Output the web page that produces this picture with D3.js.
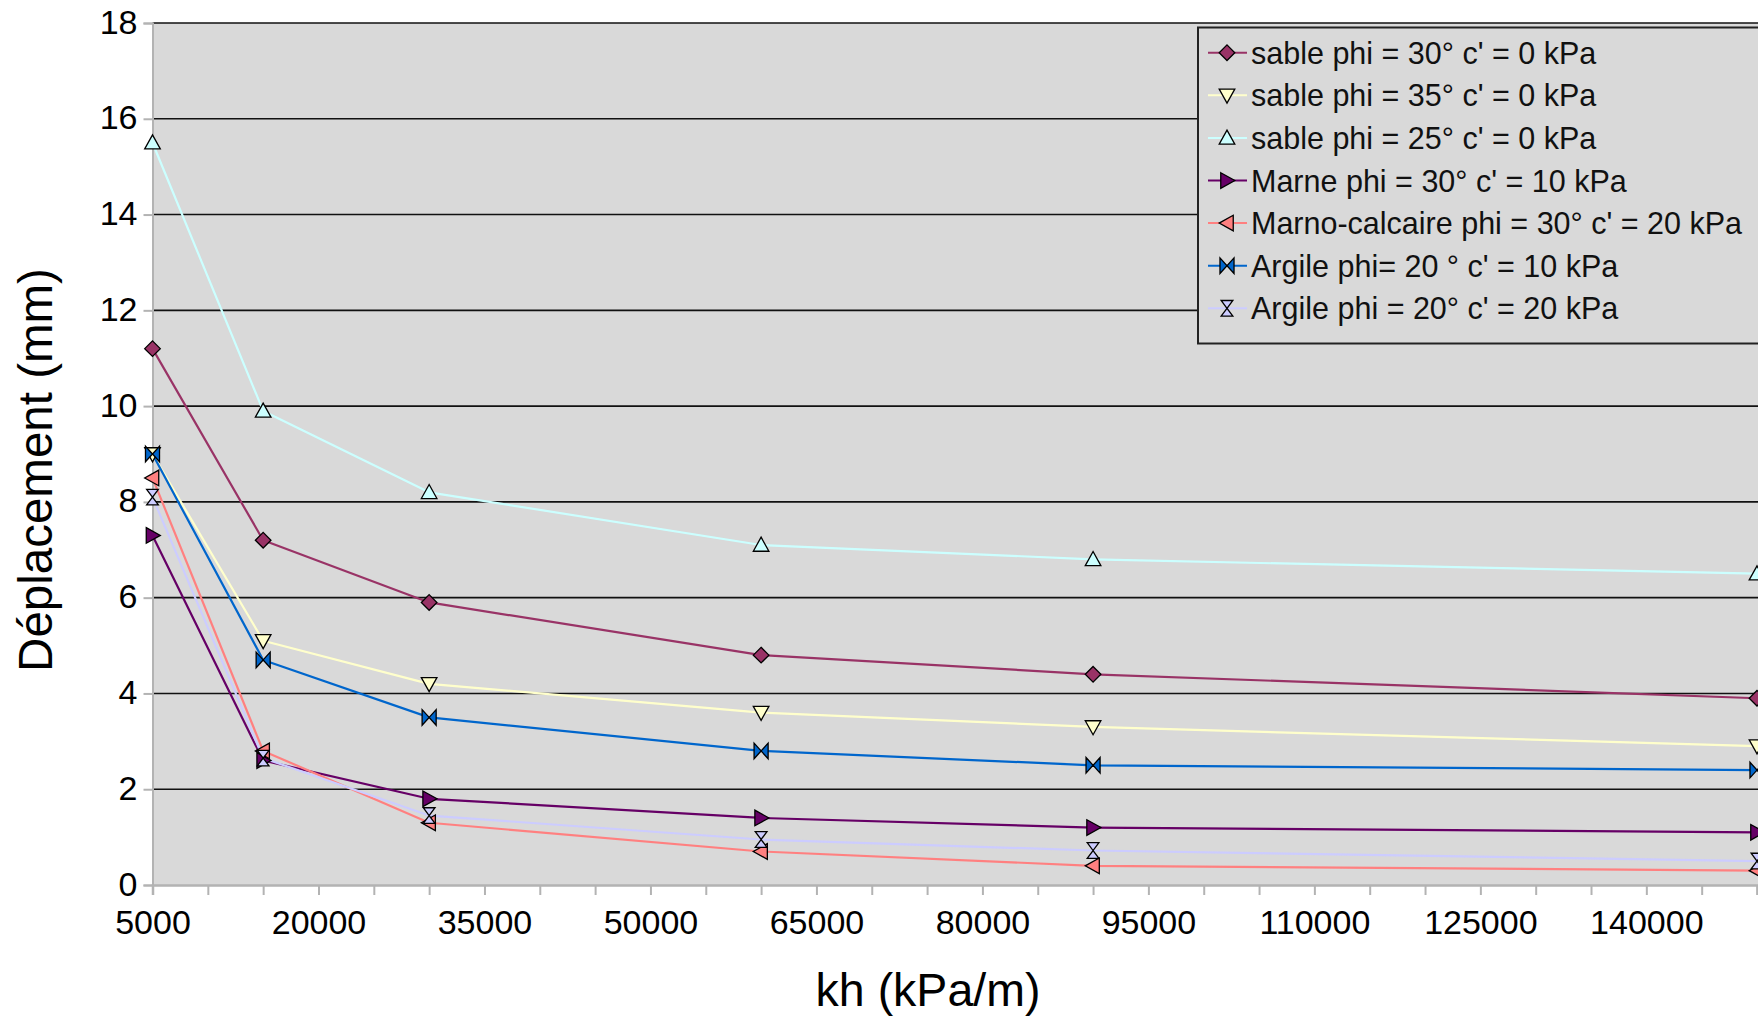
<!DOCTYPE html>
<html>
<head>
<meta charset="utf-8">
<script src="https://cdn.jsdelivr.net/npm/d3@7"></script>
<style>
  html, body { margin: 0; padding: 0; background: #ffffff; }
  svg { display: block; font-family: "Liberation Sans", Arial, sans-serif; }
</style>
</head>
<body>
<svg id="chart" width="1758" height="1018"></svg>
<script>
// ---- Data ----
const khValues = [5000, 15000, 30000, 60000, 90000, 150000];
const seriesNames = [
  "sable phi = 30° c' = 0 kPa",
  "sable phi = 35° c' = 0 kPa",
  "sable phi = 25° c' = 0 kPa",
  "Marne phi = 30° c' = 10 kPa",
  "Marno-calcaire phi = 30° c' = 20 kPa",
  "Argile phi= 20 ° c' = 10 kPa",
  "Argile phi = 20° c' = 20 kPa"
];
const sable30 = [11.2, 7.2, 5.9, 4.8, 4.4, 3.9];
const sable35 = [9.0, 5.1, 4.2, 3.6, 3.3, 2.9];
const sable25 = [15.5, 9.9, 8.2, 7.1, 6.8, 6.5];
const marne = [7.3, 2.6, 1.8, 1.4, 1.2, 1.1];
const marnoCalcaire = [8.5, 2.8, 1.3, 0.7, 0.4, 0.3];
const argile10 = [9.0, 4.7, 3.5, 2.8, 2.5, 2.4];
const argile20 = [8.1, 2.65, 1.45, 0.95, 0.72, 0.5];
const seriesValues = [sable30, sable35, sable25, marne, marnoCalcaire, argile10, argile20];
const seriesColors = ["#993366", "#ffffcc", "#ccffff", "#660066", "#ff8080", "#0066cc", "#ccccff"];
const seriesMarkers = ["diamond", "down", "up", "right", "left", "bowtie", "hourglass"];
const yTicks = [0, 2, 4, 6, 8, 10, 12, 14, 16, 18];
const xTickMarks = d3.range(5000, 150001, 5000);
const xTickLabels = [5000, 20000, 35000, 50000, 65000, 80000, 95000, 110000, 125000, 140000];

// ---- Layout ----
const svg = d3.select("#chart");
const plot = { left: 152.5, right: 1757, top: 23, bottom: 885 };
const x = d3.scaleLinear().domain([5000, 150000]).range([plot.left, plot.right]);
const y = d3.scaleLinear().domain([0, 18]).range([plot.bottom, plot.top]);

function markerPath(type, r) {
  switch (type) {
    case "diamond": return `M0,${-r}L${r},0L0,${r}L${-r},0Z`;
    case "down": return `M${-r},${-r*0.8}L${r},${-r*0.8}L0,${r}Z`;
    case "up": return `M0,${-r}L${r},${r*0.8}L${-r},${r*0.8}Z`;
    case "right": return `M${-r*0.8},${-r}L${r},0L${-r*0.8},${r}Z`;
    case "left": return `M${r*0.8},${-r}L${-r},0L${r*0.8},${r}Z`;
    case "bowtie": return `M${-r*0.9},${-r}L0,0L${-r*0.9},${r}ZM${r*0.9},${-r}L0,0L${r*0.9},${r}Z`;
    case "hourglass": return `M${-r*0.75},${-r}L${r*0.75},${-r}L0,0ZM${-r*0.75},${r}L${r*0.75},${r}L0,0Z`;
  }
}

// plot background
svg.append("rect")
  .attr("x", plot.left).attr("y", plot.top)
  .attr("width", plot.right - plot.left + 2).attr("height", plot.bottom - plot.top)
  .attr("fill", "#d9d9d9");

// gridlines
svg.append("g").selectAll("line")
  .data(yTicks.filter(d => d > 0))
  .join("line")
  .attr("x1", plot.left).attr("x2", 1758)
  .attr("y1", d => y(d)).attr("y2", d => y(d))
  .attr("stroke", "#111").attr("stroke-width", 1.6);

// Y axis
const yAxis = svg.append("g")
  .attr("transform", `translate(${plot.left},0)`)
  .call(d3.axisLeft(y).tickValues(yTicks).tickSize(9).tickPadding(6).tickFormat(d3.format("d")));
yAxis.select(".domain").attr("stroke", "#b3b3b3").attr("stroke-width", 2);
yAxis.selectAll(".tick line").attr("stroke", "#b3b3b3").attr("stroke-width", 2);
yAxis.selectAll(".tick text").attr("font-size", 34).attr("fill", "#000")
  .attr("dy", null).attr("y", 10)
  .attr("font-family", "'Liberation Sans', Arial, sans-serif");

// X axis
const xAxis = svg.append("g")
  .attr("transform", `translate(0,${plot.bottom})`)
  .call(d3.axisBottom(x).tickValues(xTickMarks).tickSize(10).tickPadding(10)
    .tickFormat(d => xTickLabels.includes(d) ? String(d) : ""));
xAxis.select(".domain").attr("stroke", "#b3b3b3").attr("stroke-width", 2.5);
xAxis.selectAll(".tick line").attr("stroke", "#b3b3b3").attr("stroke-width", 2);
xAxis.selectAll(".tick text").attr("font-size", 34).attr("fill", "#000")
  .attr("dy", null).attr("y", 49)
  .attr("font-family", "'Liberation Sans', Arial, sans-serif");

// Series lines
const line = d3.line().x((d, i) => x(khValues[i])).y(d => y(d));
const seriesG = svg.append("g");
seriesValues.forEach((vals, s) => {
  seriesG.append("path")
    .attr("d", line(vals))
    .attr("fill", "none")
    .attr("stroke", seriesColors[s])
    .attr("stroke-width", 2.2)
    .attr("stroke-linejoin", "round");
});
// Markers
seriesValues.forEach((vals, s) => {
  seriesG.append("g").selectAll("path")
    .data(vals)
    .join("path")
    .attr("transform", (d, i) => `translate(${x(khValues[i])},${y(d)})`)
    .attr("d", markerPath(seriesMarkers[s], 7.8))
    .attr("fill", seriesColors[s])
    .attr("stroke", "#000")
    .attr("stroke-width", 1.3)
    .attr("stroke-linejoin", "miter");
});

// Legend
const legend = svg.append("g");
legend.append("rect")
  .attr("x", 1198).attr("y", 27.5)
  .attr("width", 600).attr("height", 316)
  .attr("fill", "#d9d9d9").attr("stroke", "#222").attr("stroke-width", 2);
seriesNames.forEach((name, s) => {
  const cy = 52.7 + s * 42.6;
  legend.append("line")
    .attr("x1", 1208).attr("x2", 1247).attr("y1", cy).attr("y2", cy)
    .attr("stroke", seriesColors[s]).attr("stroke-width", 2);
  legend.append("path")
    .attr("transform", `translate(1227,${cy})`)
    .attr("d", markerPath(seriesMarkers[s], 7.8))
    .attr("fill", seriesColors[s]).attr("stroke", "#000").attr("stroke-width", 1.3);
  legend.append("text")
    .attr("x", 1251).attr("y", cy + 11)
    .attr("font-size", 30.5).attr("fill", "#111")
    .text(name);
});

// Axis titles
svg.append("text")
  .attr("transform", "translate(52,470) rotate(-90)")
  .attr("text-anchor", "middle")
  .attr("font-size", 47.5).attr("fill", "#000")
  .text("Déplacement (mm)");
svg.append("text")
  .attr("x", 928).attr("y", 1006)
  .attr("text-anchor", "middle")
  .attr("font-size", 46.5).attr("fill", "#000")
  .text("kh (kPa/m)");
</script>
</body>
</html>
